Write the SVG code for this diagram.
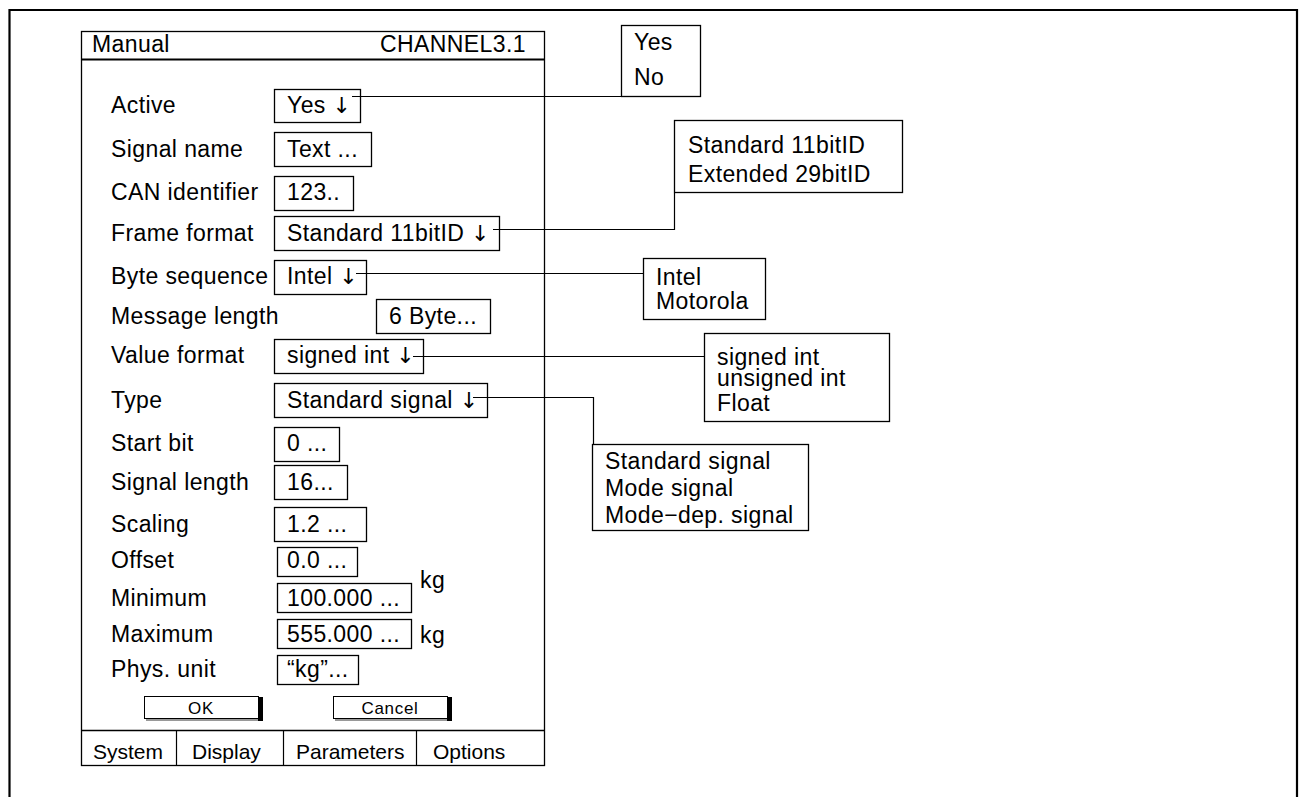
<svg xmlns="http://www.w3.org/2000/svg" width="1302" height="797" viewBox="0 0 1302 797">
<style>
text{font-family:"Liberation Sans",Arial,sans-serif;font-size:23px;letter-spacing:0.4px;fill:#000}
.ar{font-family:"DejaVu Sans",sans-serif;font-size:22px;letter-spacing:0;fill:#000}
.btn{font-size:17px;letter-spacing:0.7px;text-anchor:middle}
.tab{font-size:21px;letter-spacing:0}
.b{fill:#fff;stroke:#000;stroke-width:1.3}
.c{fill:none;stroke:#000;stroke-width:1.2}
</style>
<rect x="0" y="0" width="1302" height="797" fill="#fff"/>
<path d="M9.5,830 V10 H1297 V830" fill="none" stroke="#000" stroke-width="2.2"/>

<g id="dialog">
<rect x="81.5" y="31.5" width="463" height="734" fill="#fff" stroke="#000" stroke-width="1.3"/>
<line x1="81" y1="59.5" x2="545" y2="59.5" stroke="#000" stroke-width="2"/>
<text x="92" y="52">Manual</text>
<text x="380" y="52">CHANNEL3.1</text>
</g>

<g id="row-active"><text x="111" y="113">Active</text><rect class="b" x="274.5" y="89.5" width="86" height="33"/><text x="287" y="113">Yes <tspan class="ar">↓</tspan></text></g>
<g id="row-signalname"><text x="111" y="157">Signal name</text><rect class="b" x="274.5" y="132.5" width="97" height="34"/><text x="287" y="157">Text ...</text></g>
<g id="row-canid"><text x="111" y="200">CAN identifier</text><rect class="b" x="274.5" y="176.5" width="79" height="34"/><text x="287" y="200">123..</text></g>
<g id="row-frame"><text x="111" y="241">Frame format</text><rect class="b" x="274.5" y="216.5" width="225" height="34"/><text x="287" y="241">Standard 11bitID <tspan class="ar">↓</tspan></text></g>
<g id="row-byteseq"><text x="111" y="284">Byte sequence</text><rect class="b" x="274.5" y="260.5" width="92" height="34"/><text x="287" y="284">Intel <tspan class="ar">↓</tspan></text></g>
<g id="row-msglen"><text x="111" y="324">Message length</text><rect class="b" x="376.5" y="299.5" width="114" height="34"/><text x="389" y="324">6 Byte...</text></g>
<g id="row-valfmt"><text x="111" y="363">Value format</text><rect class="b" x="274.5" y="339.5" width="149" height="34"/><text x="287" y="363">signed int <tspan class="ar">↓</tspan></text></g>
<g id="row-type"><text x="111" y="408">Type</text><rect class="b" x="274.5" y="383.5" width="213" height="34"/><text x="287" y="408">Standard signal <tspan class="ar">↓</tspan></text></g>
<g id="row-startbit"><text x="111" y="451">Start bit</text><rect class="b" x="274.5" y="427.5" width="65" height="34"/><text x="287" y="451">0 ...</text></g>
<g id="row-siglen"><text x="111" y="490">Signal length</text><rect class="b" x="274.5" y="465.5" width="73" height="34"/><text x="287" y="490">16...</text></g>
<g id="row-scaling"><text x="111" y="532">Scaling</text><rect class="b" x="274.5" y="507.5" width="92" height="34"/><text x="287" y="532">1.2  ...</text></g>
<g id="row-offset"><text x="111" y="568">Offset</text><rect class="b" x="277.5" y="547.5" width="80" height="29"/><text x="287" y="568">0.0 ...</text></g>
<g id="row-min"><text x="111" y="606">Minimum</text><rect class="b" x="277.5" y="583.5" width="134" height="29"/><text x="287" y="606">100.000 ...</text><text x="420" y="588">kg</text></g>
<g id="row-max"><text x="111" y="642">Maximum</text><rect class="b" x="277.5" y="619.5" width="134" height="29"/><text x="287" y="642">555.000 ...</text><text x="420" y="643">kg</text></g>
<g id="row-unit"><text x="111" y="677">Phys. unit</text><rect class="b" x="277.5" y="655.5" width="81" height="29"/><text x="287" y="677">“kg”...</text></g>

<g id="btn-ok"><rect x="144.5" y="696.5" width="114" height="22" fill="#fff" stroke="#000" stroke-width="1"/><rect x="258" y="697" width="5" height="24" fill="#000"/><line x1="146" y1="720" x2="258" y2="720" stroke="#777" stroke-width="1.5"/><text class="btn" x="201" y="714">OK</text></g>
<g id="btn-cancel"><rect x="333.5" y="696.5" width="114" height="22" fill="#fff" stroke="#000" stroke-width="1"/><rect x="447" y="697" width="5" height="24" fill="#000"/><line x1="335" y1="720" x2="447" y2="720" stroke="#777" stroke-width="1.5"/><text class="btn" x="390" y="714">Cancel</text></g>

<g id="tabs">
<line x1="81" y1="730.5" x2="545" y2="730.5" stroke="#000" stroke-width="1.3"/>
<line x1="176.5" y1="730" x2="176.5" y2="765" stroke="#000" stroke-width="1.2"/>
<line x1="283.5" y1="730" x2="283.5" y2="765" stroke="#000" stroke-width="1.2"/>
<line x1="416.5" y1="730" x2="416.5" y2="765" stroke="#000" stroke-width="1.2"/>
<text class="tab" x="93" y="759">System</text>
<text class="tab" x="192" y="759">Display</text>
<text class="tab" x="296" y="759">Parameters</text>
<text class="tab" x="433" y="759">Options</text>
</g>

<g id="list-yesno"><rect class="b" x="621.5" y="25.5" width="79" height="71"/><text x="634" y="50">Yes</text><text x="634" y="85">No</text></g>
<g id="list-frame"><rect class="b" x="674.5" y="120.5" width="228" height="72"/><text x="688" y="153">Standard 11bitID</text><text x="688" y="182">Extended 29bitID</text></g>
<g id="list-byteseq"><rect class="b" x="643.5" y="258.5" width="122" height="61"/><text x="656" y="285">Intel</text><text x="656" y="309">Motorola</text></g>
<g id="list-valfmt"><rect class="b" x="704.5" y="333.5" width="185" height="88"/><text x="717" y="365">signed int</text><text x="717" y="386">unsigned int</text><text x="717" y="411">Float</text></g>
<g id="list-type"><rect class="b" x="592.5" y="444.5" width="216" height="86"/><text x="605" y="469">Standard signal</text><text x="605" y="496">Mode signal</text><text x="605" y="523">Mode−dep. signal</text></g>

<g id="connectors">
<path class="c" d="M352,96.5 H621"/>
<path class="c" d="M493,229.5 H674.5 V193"/>
<path class="c" d="M356,273.5 H643"/>
<path class="c" d="M413,356.5 H704"/>
<path class="c" d="M473,397.5 H593.5 V444"/>
</g>
</svg>
